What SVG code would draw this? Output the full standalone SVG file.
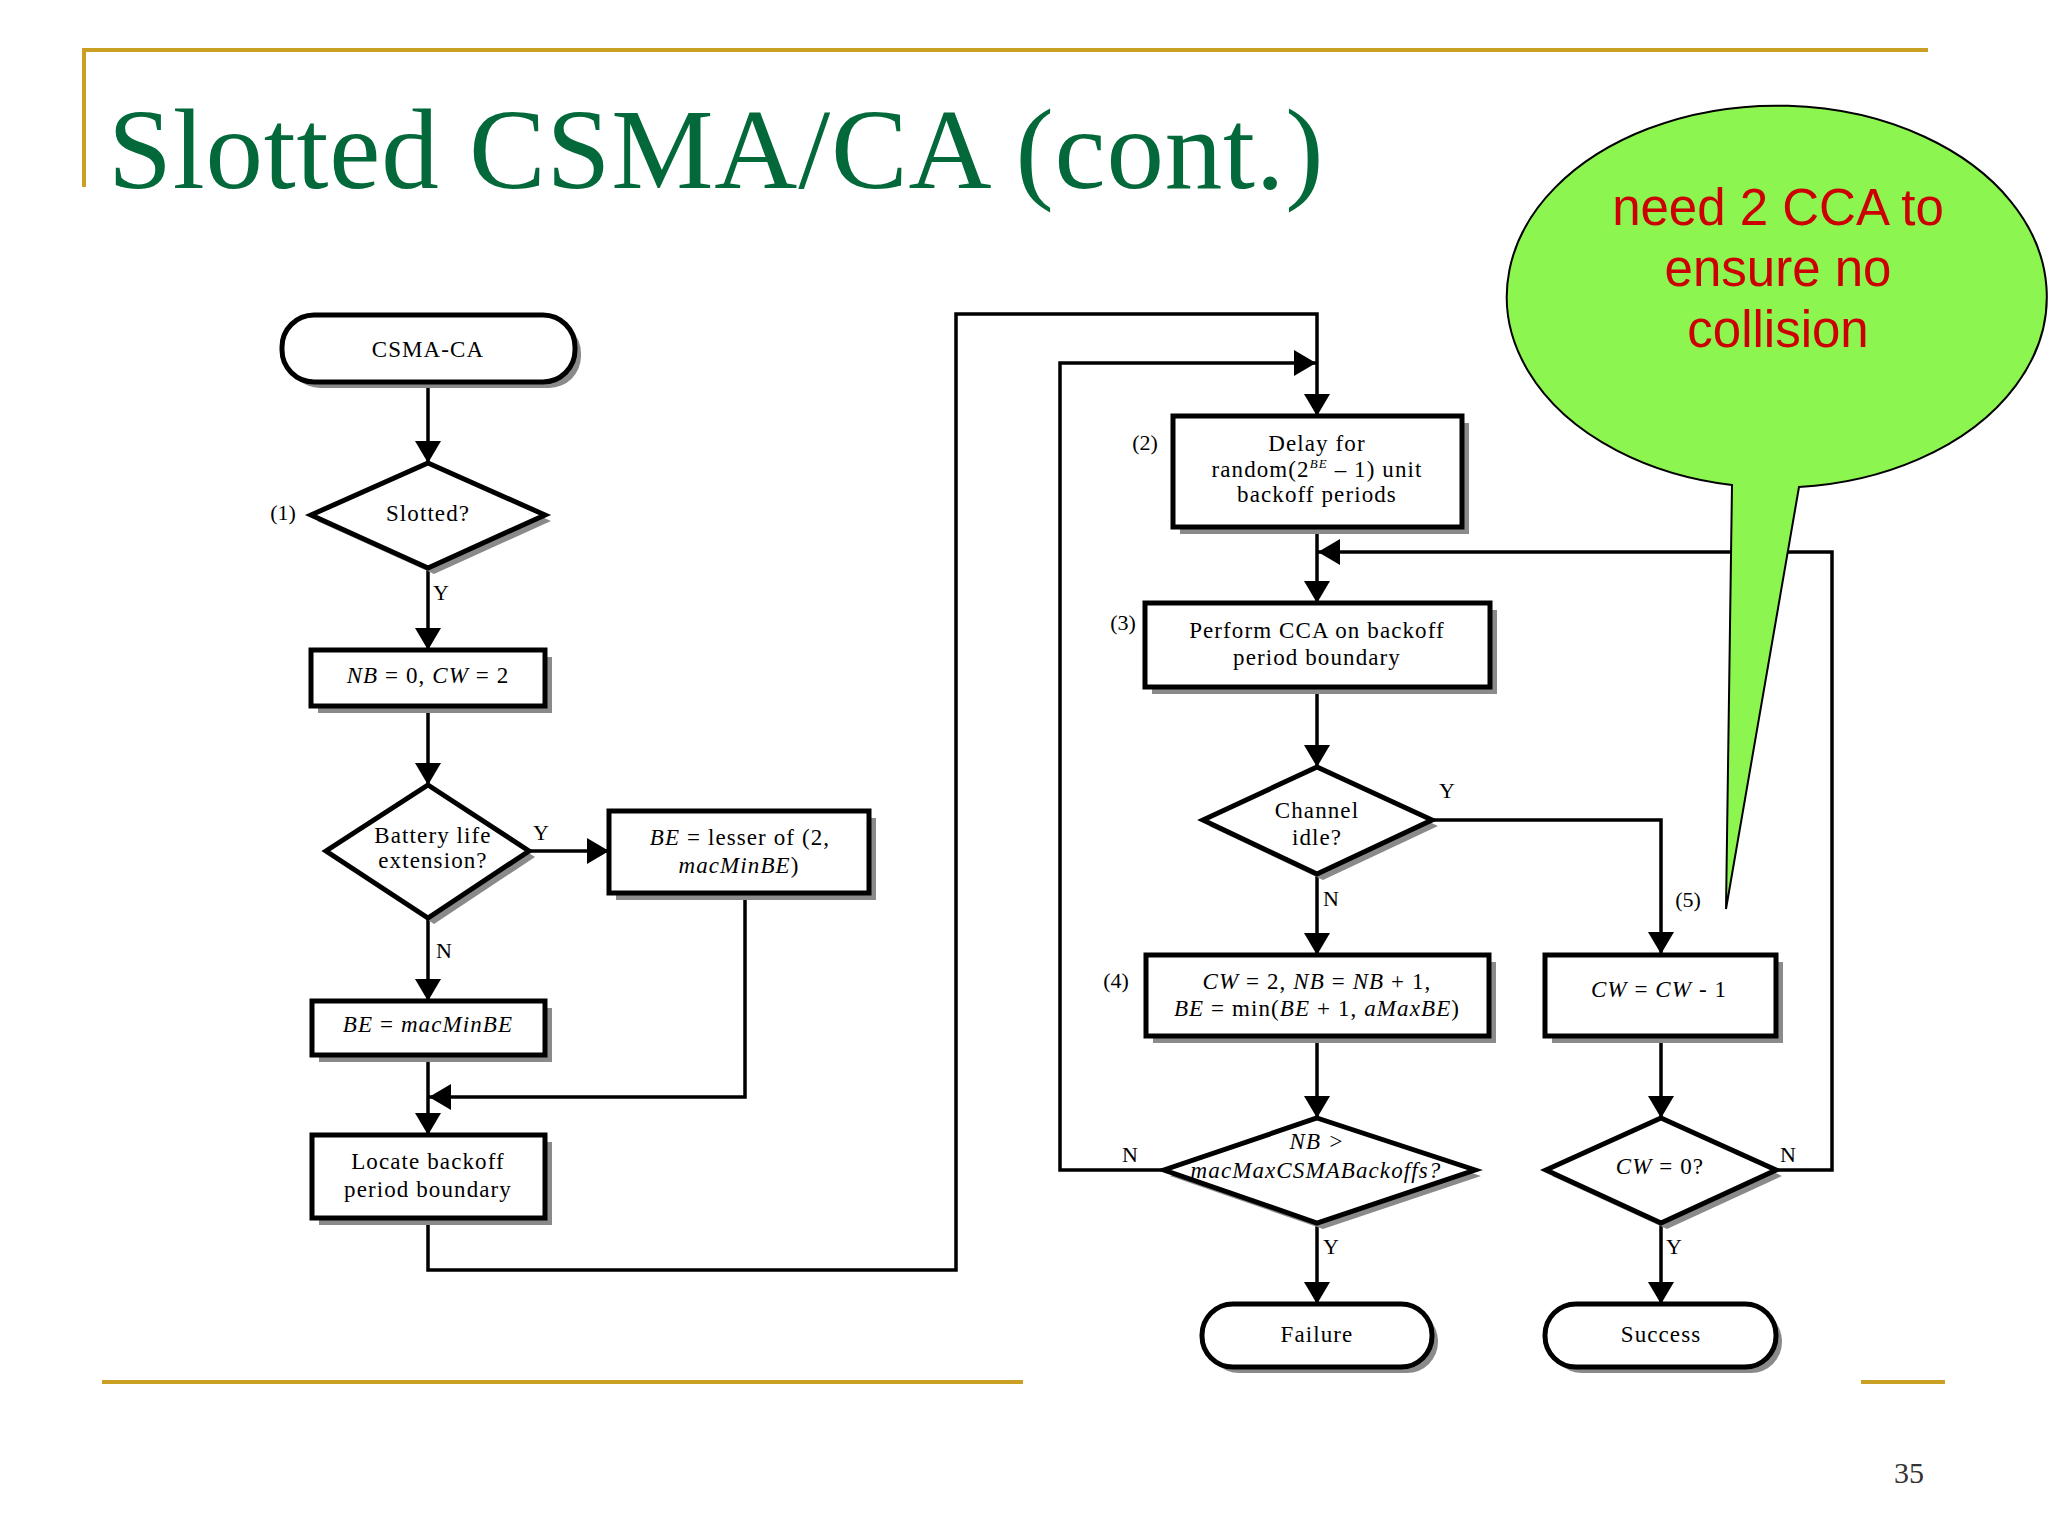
<svg xmlns="http://www.w3.org/2000/svg" width="2048" height="1536" viewBox="0 0 2048 1536">
<style>
.bg{fill:#ffffff}
.gold{stroke:#C9A024;stroke-width:4;fill:none}
.title{font-family:"Liberation Serif","Times New Roman",serif;font-size:115px;letter-spacing:0.8px;fill:#03693A}
.pg{font-family:"Liberation Serif","Times New Roman",serif;font-size:30px;fill:#333333}
.sh{fill:#8a8a8a}
.bx{fill:#ffffff;stroke:#000000;stroke-width:5}
.conn{fill:none;stroke:#000000;stroke-width:3.5}
.t{font-family:"Liberation Serif","Times New Roman",serif;font-size:23px;letter-spacing:1.1px;fill:#000000;text-anchor:middle}
.lb{font-family:"Liberation Serif","Times New Roman",serif;font-size:22px;fill:#000000;text-anchor:middle}
.i{font-style:italic}
.sup{font-size:13px;font-style:italic}
.callout{fill:#8CF54F;stroke:#000000;stroke-width:2}
.ct{font-family:"Liberation Sans",Arial,sans-serif;font-size:51px;fill:#CC0000;text-anchor:middle}
</style>
<defs>
<marker id="ah" viewBox="0 0 22 26" markerWidth="22" markerHeight="26" refX="22" refY="13" orient="auto" markerUnits="userSpaceOnUse">
<path d="M0,0 L22,13 L0,26 Z" fill="#000000"/>
</marker>
</defs>
<rect class="bg" x="0" y="0" width="2048" height="1536"/>

<g id="frame">
<path class="gold" d="M84,187 V50 H1928"/>
<line class="gold" x1="102" y1="1382" x2="1023" y2="1382"/>
<line class="gold" x1="1861" y1="1382" x2="1945" y2="1382"/>
<text class="title" x="108" y="188">Slotted CSMA/CA (cont.)</text>
<text class="pg" x="1894" y="1483">35</text>
</g>

<g id="connectors">
<path class="conn" d="M428,382 V463" marker-end="url(#ah)"/>
<path class="conn" d="M428,568 V650" marker-end="url(#ah)"/>
<path class="conn" d="M428,706 V785" marker-end="url(#ah)"/>
<path class="conn" d="M529,851 H609" marker-end="url(#ah)"/>
<path class="conn" d="M428,918 V1001" marker-end="url(#ah)"/>
<path class="conn" d="M428,1055 V1135" marker-end="url(#ah)"/>
<path class="conn" d="M745,893 V1097 H429" marker-end="url(#ah)"/>
<path class="conn" d="M428,1218 V1270 H956 V314 H1317 V416" marker-end="url(#ah)"/>
<path class="conn" d="M1164,1170 H1060 V363 H1316" marker-end="url(#ah)"/>
<path class="conn" d="M1317,527 V603" marker-end="url(#ah)"/>
<path class="conn" d="M1776,1170 H1832 V552 H1318" marker-end="url(#ah)"/>
<path class="conn" d="M1317,687 V767" marker-end="url(#ah)"/>
<path class="conn" d="M1432,820 H1661 V954" marker-end="url(#ah)"/>
<path class="conn" d="M1317,874 V955" marker-end="url(#ah)"/>
<path class="conn" d="M1317,1036 V1118" marker-end="url(#ah)"/>
<path class="conn" d="M1661,1036 V1118" marker-end="url(#ah)"/>
<path class="conn" d="M1317,1223 V1304" marker-end="url(#ah)"/>
<path class="conn" d="M1661,1223 V1304" marker-end="url(#ah)"/>
<text class="lb" x="441" y="600">Y</text>
<text class="lb" x="541" y="840">Y</text>
<text class="lb" x="444" y="958">N</text>
<text class="lb" x="1447" y="798">Y</text>
<text class="lb" x="1331" y="906">N</text>
<text class="lb" x="1130" y="1162">N</text>
<text class="lb" x="1788" y="1162">N</text>
<text class="lb" x="1331" y="1254">Y</text>
<text class="lb" x="1674" y="1254">Y</text>
</g>

<g id="start">
<rect class="sh" x="288" y="321" width="293" height="67" rx="32" ry="32"/>
<rect class="bx" x="282" y="315" width="293" height="67" rx="32" ry="32"/>
<text class="t" x="428" y="357">CSMA-CA</text>
</g>

<g id="slotted">
<polygon class="sh" points="434,469 551,521 434,574 317,521"/>
<polygon class="bx" points="428,463 545,515 428,568 311,515"/>
<text class="t" x="428" y="521">Slotted?</text>
<text class="lb" x="283" y="520">(1)</text>
</g>

<g id="init">
<rect class="sh" x="318" y="657" width="234" height="56"/>
<rect class="bx" x="311" y="650" width="234" height="56"/>
<text class="t" x="428" y="683"><tspan class="i">NB</tspan> = 0, <tspan class="i">CW</tspan> = 2</text>
</g>

<g id="battery">
<polygon class="sh" points="434,791 535,857 434,924 332,857"/>
<polygon class="bx" points="428,785 529,851 428,918 326,851"/>
<text class="t" x="433" y="843">Battery life</text>
<text class="t" x="433" y="868">extension?</text>
</g>

<g id="be-lesser">
<rect class="sh" x="616" y="818" width="260" height="82"/>
<rect class="bx" x="609" y="811" width="260" height="82"/>
<text class="t" x="740" y="845"><tspan class="i">BE</tspan> = lesser of (2,</text>
<text class="t" x="739" y="873"><tspan class="i">macMinBE</tspan>)</text>
</g>

<g id="be-min">
<rect class="sh" x="319" y="1008" width="233" height="54"/>
<rect class="bx" x="312" y="1001" width="233" height="54"/>
<text class="t" x="428" y="1032"><tspan class="i">BE</tspan> = <tspan class="i">macMinBE</tspan></text>
</g>

<g id="locate">
<rect class="sh" x="319" y="1142" width="233" height="83"/>
<rect class="bx" x="312" y="1135" width="233" height="83"/>
<text class="t" x="428" y="1169">Locate backoff</text>
<text class="t" x="428" y="1197">period boundary</text>
</g>

<g id="delay">
<rect class="sh" x="1180" y="423" width="289" height="111"/>
<rect class="bx" x="1173" y="416" width="289" height="111"/>
<text class="t" x="1317" y="451">Delay  for</text>
<text class="t" x="1317" y="477">random(2<tspan class="sup" dy="-9">BE</tspan><tspan dy="9"> – 1) unit</tspan></text>
<text class="t" x="1317" y="502">backoff periods</text>
<text class="lb" x="1145" y="450">(2)</text>
</g>

<g id="cca">
<rect class="sh" x="1152" y="610" width="345" height="84"/>
<rect class="bx" x="1145" y="603" width="345" height="84"/>
<text class="t" x="1317" y="638">Perform CCA on backoff</text>
<text class="t" x="1317" y="665">period boundary</text>
<text class="lb" x="1123" y="630">(3)</text>
</g>

<g id="channel">
<polygon class="sh" points="1323,773 1438,826 1323,880 1209,826"/>
<polygon class="bx" points="1317,767 1432,820 1317,874 1203,820"/>
<text class="t" x="1317" y="818">Channel</text>
<text class="t" x="1317" y="845">idle?</text>
</g>

<g id="backoff-update">
<rect class="sh" x="1153" y="962" width="343" height="81"/>
<rect class="bx" x="1146" y="955" width="343" height="81"/>
<text class="t" x="1317" y="989"><tspan class="i">CW</tspan> = 2, <tspan class="i">NB</tspan> = <tspan class="i">NB</tspan> + 1,</text>
<text class="t" x="1317" y="1016"><tspan class="i">BE</tspan> = min(<tspan class="i">BE</tspan> + 1, <tspan class="i">aMaxBE</tspan>)</text>
<text class="lb" x="1116" y="988">(4)</text>
</g>

<g id="cw-dec">
<rect class="sh" x="1552" y="962" width="231" height="81"/>
<rect class="bx" x="1545" y="955" width="231" height="81"/>
<text class="t" x="1659" y="997"><tspan class="i">CW</tspan> = <tspan class="i">CW</tspan> - 1</text>
<text class="lb" x="1688" y="907">(5)</text>
</g>

<g id="nb-check">
<polygon class="sh" points="1323,1124 1481,1176 1323,1229 1170,1176"/>
<polygon class="bx" points="1317,1118 1475,1170 1317,1223 1164,1170"/>
<text class="t i" x="1317" y="1149">NB &gt;</text>
<text class="t i" x="1316" y="1178">macMaxCSMABackoffs?</text>
</g>

<g id="cw-check">
<polygon class="sh" points="1667,1124 1782,1176 1667,1229 1552,1176"/>
<polygon class="bx" points="1661,1118 1776,1170 1661,1223 1546,1170"/>
<text class="t" x="1660" y="1174"><tspan class="i">CW</tspan> = 0?</text>
</g>

<g id="failure">
<rect class="sh" x="1208" y="1310" width="230" height="63" rx="31" ry="31"/>
<rect class="bx" x="1202" y="1304" width="230" height="63" rx="31" ry="31"/>
<text class="t" x="1317" y="1342">Failure</text>
</g>

<g id="success">
<rect class="sh" x="1551" y="1310" width="231" height="63" rx="31" ry="31"/>
<rect class="bx" x="1545" y="1304" width="231" height="63" rx="31" ry="31"/>
<text class="t" x="1661" y="1342">Success</text>
</g>

<g id="callout">
<path class="callout" d="M1732,485 A270,191 0 1 1 1799,487 L1726,909 Z"/>
<text class="ct" x="1778" y="225">need 2 CCA to</text>
<text class="ct" x="1778" y="286">ensure no</text>
<text class="ct" x="1778" y="347">collision</text>
</g>
</svg>
